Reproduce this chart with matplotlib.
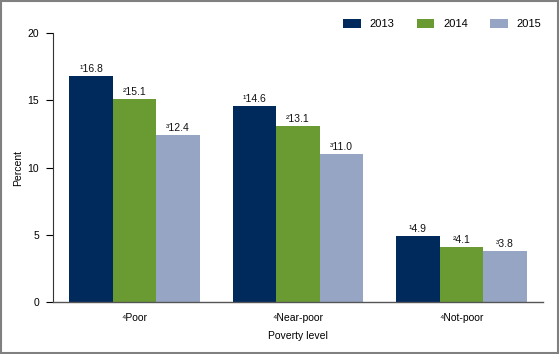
import numpy as np
import matplotlib.pyplot as plt
from matplotlib.patches import Rectangle

plt.rcParams['font.family'] = ['Liberation Sans', 'DejaVu Sans']
plt.rcParams['font.size'] = 7.5

categories = ["\u2074Poor", "\u2074Near-poor", "\u2074Not-poor"]
years = ["2013", "2014", "2015"]
values = {
    "2013": [16.8, 14.6, 4.9],
    "2014": [15.1, 13.1, 4.1],
    "2015": [12.4, 11.0, 3.8],
}
marks = {"2013": "\u00b9", "2014": "\u00b2", "2015": "\u00b3"}
colors = {"2013": "#002a5c", "2014": "#6a9a32", "2015": "#97a5c4"}

fig = plt.figure(figsize=(5.6, 3.54), dpi=100)
ax = fig.add_axes([53/560, 1-302/354, 490/560, 269/354])

x = np.arange(len(categories))
w = 0.267
for i, yr in enumerate(years):
    pos = x + (i - 1) * w
    ax.bar(pos, values[yr], width=w, color=colors[yr], label=yr)
    for xp, v in zip(pos, values[yr]):
        ax.text(xp, v + 0.15, f"{marks[yr]}{v:.1f}", ha="center", va="bottom",
                fontsize=7.5, color="#111111")

ax.set_xlim(-0.5, 2.5)
ax.set_ylim(0, 20)
ax.set_yticks([0, 5, 10, 15, 20])
ax.set_xticks(x)
ax.set_xticklabels(categories)
ax.tick_params(axis="x", length=0, pad=8)
ax.tick_params(axis="y", length=5, width=0.8, direction="out", pad=5)
ax.spines["top"].set_visible(False)
ax.spines["right"].set_visible(False)
ax.spines["left"].set_color("#333333")
ax.spines["bottom"].set_color("#555555")
ax.spines["bottom"].set_linewidth(1.0)
ax.set_ylabel("Percent", labelpad=8)
ax.yaxis.set_label_coords(-0.06, 0.5)
ax.set_xlabel("Poverty level", labelpad=6)

fig.legend(loc="upper right", bbox_to_anchor=(0.985, 0.975), ncol=3,
           frameon=False, handlelength=1.6, handleheight=0.9,
           columnspacing=2.0, handletextpad=0.8, fontsize=8)

fig.patches.append(Rectangle((0.002, 0.003), 0.995, 0.994, transform=fig.transFigure,
                             fill=False, edgecolor="#808080", linewidth=1.5))

fig.savefig("out.png", dpi=100)
